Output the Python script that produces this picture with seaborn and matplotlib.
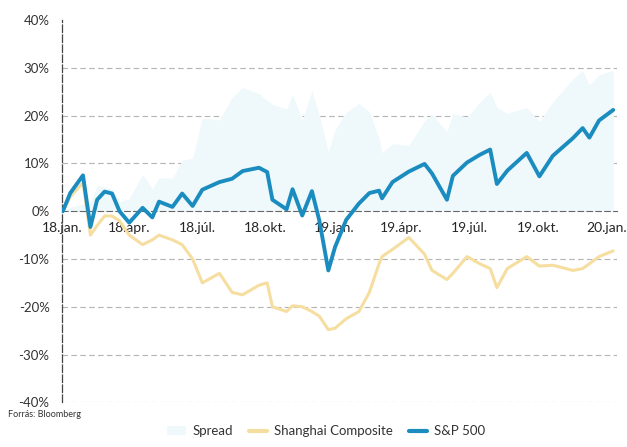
"""S&P 500 vs Shanghai Composite, cumulative change since Jan 2018."""

import matplotlib

matplotlib.use("Agg")

import matplotlib.pyplot as plt
import pandas as pd
import seaborn as sns
from matplotlib.lines import Line2D
from matplotlib.patches import Patch

# values (cumulative %, common date grid)
dates = [
    "2018-01-02", "2018-01-12", "2018-01-29", "2018-02-08", "2018-02-17",
    "2018-02-27", "2018-03-09", "2018-03-19", "2018-04-01", "2018-04-19",
    "2018-05-02", "2018-05-11", "2018-05-29", "2018-06-11", "2018-06-25",
    "2018-07-08", "2018-07-31", "2018-08-17", "2018-08-31", "2018-09-22",
    "2018-10-03", "2018-10-10", "2018-10-29", "2018-11-06", "2018-11-19",
    "2018-12-02", "2018-12-12", "2018-12-24", "2019-01-02", "2019-01-17",
    "2019-02-03", "2019-02-17", "2019-03-02", "2019-03-06", "2019-03-20",
    "2019-04-11", "2019-05-02", "2019-05-12", "2019-06-01", "2019-06-09",
    "2019-06-28", "2019-07-15", "2019-07-29", "2019-08-07", "2019-08-21",
    "2019-09-16", "2019-10-03", "2019-10-21", "2019-11-17", "2019-11-30",
    "2019-12-09", "2019-12-22", "2020-01-10",
]
sp500 = [
    0.0, 3.8, 7.5, -3.3, 2.4,
    4.1, 3.7, 0.0, -2.4, 0.7,
    -1.3, 2.0, 0.9, 3.7, 1.1,
    4.5, 6.1, 6.8, 8.4, 9.1,
    8.2, 2.4, 0.4, 4.6, -0.9,
    4.2, -2.0, -12.4, -7.5, -1.8,
    1.6, 3.8, 4.3, 2.7, 6.1,
    8.3, 9.9, 7.9, 2.4, 7.4,
    10.2, 11.8, 12.9, 5.7, 8.5,
    12.2, 7.3, 11.6, 15.3, 17.4,
    15.4, 19.0, 21.2,
]
shanghai = [
    0.0, 3.0, 6.0, -5.0, -3.0,
    -1.0, -1.0, -2.0, -5.0, -7.0,
    -6.0, -5.0, -6.0, -7.0, -10.0,
    -15.0, -13.0, -17.0, -17.5, -15.5,
    -15.0, -20.0, -21.0, -19.8, -20.0,
    -21.0, -22.0, -24.8, -24.5, -22.5,
    -21.0, -17.0, -11.0, -9.5, -8.0,
    -5.5, -9.0, -12.4, -14.3, -13.0,
    -9.5, -11.0, -12.0, -16.0, -12.0,
    -9.5, -11.5, -11.3, -12.4, -12.0,
    -11.0, -9.5, -8.3,
]

tick_dates = [
    "2018-01-01", "2018-04-01", "2018-07-01", "2018-10-01", "2019-01-01",
    "2019-04-01", "2019-07-01", "2019-10-01", "2020-01-01",
]
tick_labels = [
    "18.jan.", "18.ápr.", "18.júl.", "18.okt.", "19.jan.",
    "19.ápr.", "19.júl.", "19.okt.", "20.jan.",
]
y_ticks = [-40, -30, -20, -10, 0, 10, 20, 30, 40]

SP_COLOR = "#1b8cbf"
SH_COLOR = "#f6dea0"
SPREAD_COLOR = "#eff8fb"


def main() -> None:
    sns.set_style("white")
    plt.rcParams["font.family"] = ["Lato", "DejaVu Sans"]

    df = pd.DataFrame(
        {"date": pd.to_datetime(dates), "sp500": sp500, "shanghai": shanghai}
    )
    df["spread"] = df["sp500"] - df["shanghai"]

    fig = plt.figure(figsize=(6.27, 4.47), dpi=100)
    ax = fig.add_axes([0.099, 0.10, 0.885, 0.855])

    ax.fill_between(df["date"], 0, df["spread"], color=SPREAD_COLOR, lw=0, zorder=1)
    sns.lineplot(data=df, x="date", y="shanghai", ax=ax, color=SH_COLOR, lw=2.2,
                 zorder=2)
    sns.lineplot(data=df, x="date", y="sp500", ax=ax, color=SP_COLOR, lw=2.8,
                 zorder=3)

    ax.set_ylim(-40, 40)
    ax.set_xlim(pd.Timestamp("2018-01-01"), pd.Timestamp("2020-01-15"))
    ax.set_yticks(y_ticks)
    ax.set_yticklabels([f"{v}%" for v in y_ticks], fontsize=9.5, color="#333333")
    ax.set_xticks(pd.to_datetime(tick_dates))
    ax.set_xticklabels(tick_labels, fontsize=9.5, color="#333333")
    ax.set_xlabel("")
    ax.set_ylabel("")

    for v in y_ticks:
        if v in (0, 40):
            continue
        ax.axhline(v, color="#777777", lw=0.8, ls=(0, (5, 3)), alpha=0.55, zorder=0)

    for side in ("top", "right"):
        ax.spines[side].set_visible(False)
    ax.spines["bottom"].set_position(("data", 0))
    ax.spines["bottom"].set_linestyle((0, (5, 3)))
    ax.spines["bottom"].set_color("#666666")
    ax.spines["bottom"].set_linewidth(0.8)
    ax.spines["left"].set_linestyle((0, (6, 2)))
    ax.spines["left"].set_color("#444444")
    ax.spines["left"].set_linewidth(0.9)
    ax.tick_params(axis="y", length=3, width=0.8, color="#444444", pad=6)
    ax.tick_params(axis="x", length=4, width=0.8, color="#666666", pad=4)

    handles = [
        Patch(facecolor=SPREAD_COLOR, edgecolor="none", label="Spread"),
        Line2D([0], [0], color=SH_COLOR, lw=3, label="Shanghai Composite"),
        Line2D([0], [0], color=SP_COLOR, lw=3, label="S&P 500"),
    ]
    fig.legend(handles=handles, loc="lower center", bbox_to_anchor=(0.52, -0.005),
               ncol=3, frameon=False, fontsize=9.5, handlelength=1.4,
               columnspacing=1.2, handletextpad=0.5, labelcolor="#333333")

    fig.text(0.012, 0.067, "Forrás: Bloomberg", fontsize=6.5, color="#333333")

    fig.savefig("out.png", dpi=100)
    plt.close(fig)


if __name__ == "__main__":
    main()
